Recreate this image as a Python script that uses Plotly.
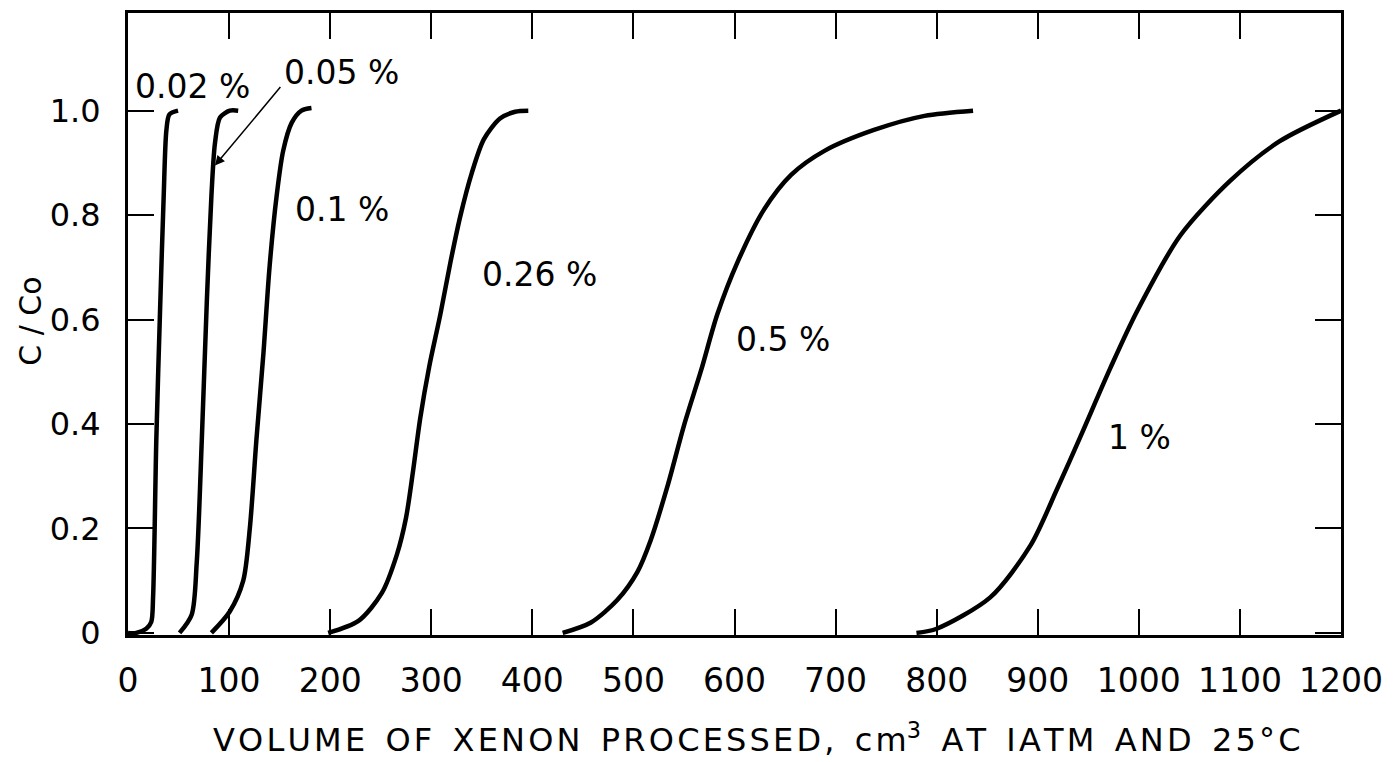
import plotly.graph_objects as go

# ---- data ----
x_002 = [0, 8, 18, 23, 24.8, 28, 32, 35.3, 38, 41, 49.5]
y_002 = [0, 0, 0.008, 0.021, 0.068, 0.369, 0.636, 0.836, 0.963, 0.993, 1.0]

x_005 = [51, 63, 68, 73, 78, 82.5, 86, 91, 100.7, 109]
y_005 = [0, 0.035, 0.135, 0.369, 0.636, 0.836, 0.937, 0.987, 1.0, 1.0]

x_01 = [82.5, 100.7, 114, 120.5, 127, 134, 140, 147, 153.5, 162, 171.6, 181.5]
y_01 = [0, 0.041, 0.1, 0.2, 0.369, 0.536, 0.70, 0.836, 0.923, 0.977, 1.0, 1.005]

x_026 = [198, 228, 251, 266, 275, 282, 289, 298, 309, 319, 329, 340, 352, 368, 383, 396]
y_026 = [0, 0.023, 0.076, 0.15, 0.22, 0.31, 0.41, 0.51, 0.61, 0.71, 0.80, 0.88, 0.945, 0.985, 0.998, 1.0]

x_05 = [430, 458, 484, 504, 517, 534, 550, 567, 583, 603, 629, 656, 689, 738, 788, 836]
y_05 = [0, 0.02, 0.063, 0.117, 0.177, 0.283, 0.397, 0.503, 0.61, 0.71, 0.81, 0.877, 0.923, 0.963, 0.99, 1.0]

x_1 = [780, 800, 853, 893, 919, 942, 972, 998, 1041, 1090, 1139, 1200]
y_1 = [0, 0.008, 0.068, 0.168, 0.275, 0.375, 0.508, 0.615, 0.761, 0.865, 0.941, 1.0]

series = [(x_002, y_002), (x_005, y_005), (x_01, y_01), (x_026, y_026), (x_05, y_05), (x_1, y_1)]

x_ticks = [0, 100, 200, 300, 400, 500, 600, 700, 800, 900, 1000, 1100, 1200]
x_ticktext = ["0", "100", "200", "300", "400", "500", "600", "700", "800", "900", "1000", "1100", "1200"]
y_ticks = [0, 0.2, 0.4, 0.6, 0.8, 1.0]
y_ticktext = ["0", "0.2", "0.4", "0.6", "0.8", "1.0"]

labels = ["0.02 %", "0.05 %", "0.1 %", "0.26 %", "0.5 %", "1 %"]
label_x = [64, 211, 212, 407, 648, 1001]
label_y = [1.046, 1.074, 0.81, 0.686, 0.562, 0.375]

x_title = "VOLUME OF XENON PROCESSED, cm³ AT IATM AND 25°C"
y_title = "C / Co"

FONT = "DejaVu Sans"


def spaced(s):
    hair = "\u200a"
    out = []
    for word in s.split(" "):
        if word.endswith("³"):
            w = hair.join(word[:-1]) + "<sup>3</sup>"
        else:
            w = hair.join(word)
        out.append(w)
    return "&nbsp;&nbsp;".join(out)


fig = go.Figure()
for xs, ys in series:
    fig.add_trace(go.Scatter(x=xs, y=ys, mode="lines",
                             line=dict(color="black", width=4.5, shape="spline", smoothing=0.8),
                             showlegend=False, hoverinfo="skip"))

annotations = []
for t, lx, ly in zip(labels, label_x, label_y):
    annotations.append(dict(x=lx, y=ly, xref="x", yref="y", text=t, showarrow=False,
                            font=dict(family=FONT, size=33, color="black")))
# arrow from 0.05 % label to its curve
annotations.append(dict(x=86, y=0.895, xref="x", yref="y", ax=152, ay=1.048, axref="x", ayref="y",
                        text="", showarrow=True, arrowhead=2, arrowsize=1.3, arrowwidth=1.5,
                        arrowcolor="black"))
# axis titles
annotations.append(dict(xref="paper", yref="paper", x=(759 - 128) / 1217, y=-(738 - 635) / 625,
                        text=spaced(x_title),
                        showarrow=False, font=dict(family=FONT, size=32, color="black"),
                        xanchor="center", yanchor="middle"))
annotations.append(dict(xref="paper", yref="paper", x=-(128 - 30) / 1217, y=(635 - 320) / 625,
                        text=y_title, textangle=-90, showarrow=False,
                        font=dict(family=FONT, size=30, color="black"),
                        xanchor="center", yanchor="middle"))

fig.update_layout(
    width=1393, height=762,
    margin=dict(l=128, r=48, t=10, b=127),
    paper_bgcolor="white", plot_bgcolor="white",
    annotations=annotations,
    font=dict(family=FONT, color="black"),
)
fig.update_xaxes(range=[0, 1200], tickvals=x_ticks, ticktext=x_ticktext,
                 showgrid=False, zeroline=False, showline=True, linecolor="black", linewidth=3,
                 mirror="ticks", ticks="inside", ticklen=26, tickwidth=2, tickcolor="black",
                 tickfont=dict(family=FONT, size=33, color="black"), ticklabelstandoff=14)
fig.update_yaxes(range=[-0.004, 1.187], tickvals=y_ticks, ticktext=y_ticktext,
                 showgrid=False, zeroline=False, showline=True, linecolor="black", linewidth=3,
                 mirror="ticks", ticks="inside", ticklen=26, tickwidth=2, tickcolor="black",
                 tickfont=dict(family=FONT, size=32, color="black"), ticklabelstandoff=18)

fig.write_html("out.html")
